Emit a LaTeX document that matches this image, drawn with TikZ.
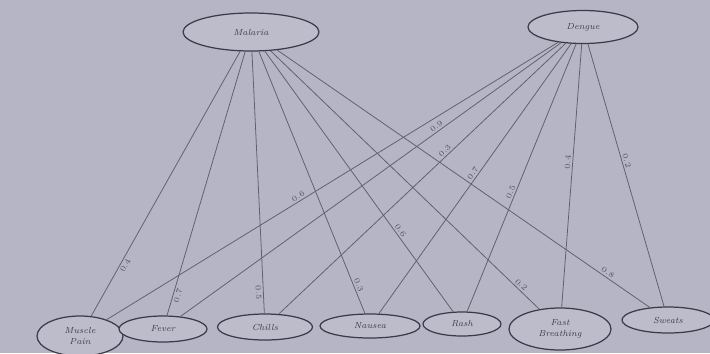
\documentclass[tikz,border=0pt]{standalone}
\usetikzlibrary{shapes.geometric}
\definecolor{bg}{HTML}{B6B5C6}
\definecolor{ink}{HTML}{3A3A48}
\definecolor{efill}{HTML}{BDBCCB}
\begin{document}
\begin{tikzpicture}[x=0.02cm,y=-0.02cm,
  nd/.style={ellipse,draw=ink,line width=0.7pt,fill=efill,inner sep=0pt,
    font=\fontsize{5}{6}\selectfont\itshape,align=center,text=ink},
  edge/.style={draw=ink!80,line width=0.45pt},
  lab/.style={sloped,font=\fontsize{4.5}{5}\selectfont,text=ink!85,inner sep=1pt}]
\fill[bg] (0,0) rectangle (710,353);
\useasboundingbox (0,0) rectangle (710,353);
% top nodes
\node[nd, minimum width=136*0.02cm, minimum height=38*0.02cm] (mal) at (251,32) {Malaria};
\node[nd, minimum width=110*0.02cm, minimum height=33*0.02cm] (den) at (583,27) {Dengue};
% bottom nodes
\node[nd, minimum width=86*0.02cm, minimum height=40*0.02cm] (s1) at (80,336) {Muscle\\Pain};
\node[nd, minimum width=88*0.02cm, minimum height=26*0.02cm] (s2) at (163,329) {Fever};
\node[nd, minimum width=95*0.02cm, minimum height=26*0.02cm] (s3) at (265,327) {Chills};
\node[nd, minimum width=100*0.02cm, minimum height=24*0.02cm] (s4) at (370,326) {Nausea};
\node[nd, minimum width=78*0.02cm, minimum height=24*0.02cm] (s5) at (462,324) {Rash};
\node[nd, minimum width=102*0.02cm, minimum height=42*0.02cm] (s6) at (560,329) {Fast\\Breathing};
\node[nd, minimum width=92*0.02cm, minimum height=26*0.02cm] (s7) at (668,320) {Sweats};
% malaria edges
\draw[edge] (mal) -- node[lab,pos=0.8,below]{0.4} (s1);
\draw[edge] (mal) -- node[lab,pos=0.92,below]{0.7} (s2);
\draw[edge] (mal) -- node[lab,pos=0.92,below]{0.5} (s3);
\draw[edge] (mal) -- node[lab,pos=0.9,above]{0.3} (s4);
\draw[edge] (mal) -- node[lab,pos=0.7,above]{0.6} (s5);
\draw[edge] (mal) -- node[lab,pos=0.92,above]{0.2} (s6);
\draw[edge] (mal) -- node[lab,pos=0.88,above]{0.8} (s7);
% dengue edges
\draw[edge] (den) -- node[lab,pos=0.57,above]{0.6} (s1);
\draw[edge] (den) -- node[lab,pos=0.32,above]{0.9} (s2);
\draw[edge] (den) -- node[lab,pos=0.41,above]{0.3} (s3);
\draw[edge] (den) -- node[lab,pos=0.49,above]{0.7} (s4);
\draw[edge] (den) -- node[lab,pos=0.56,above]{0.5} (s5);
\draw[edge] (den) -- node[lab,pos=0.45,above]{0.4} (s6);
\draw[edge] (den) -- node[lab,pos=0.45,above]{0.2} (s7);
\end{tikzpicture}
\end{document}
